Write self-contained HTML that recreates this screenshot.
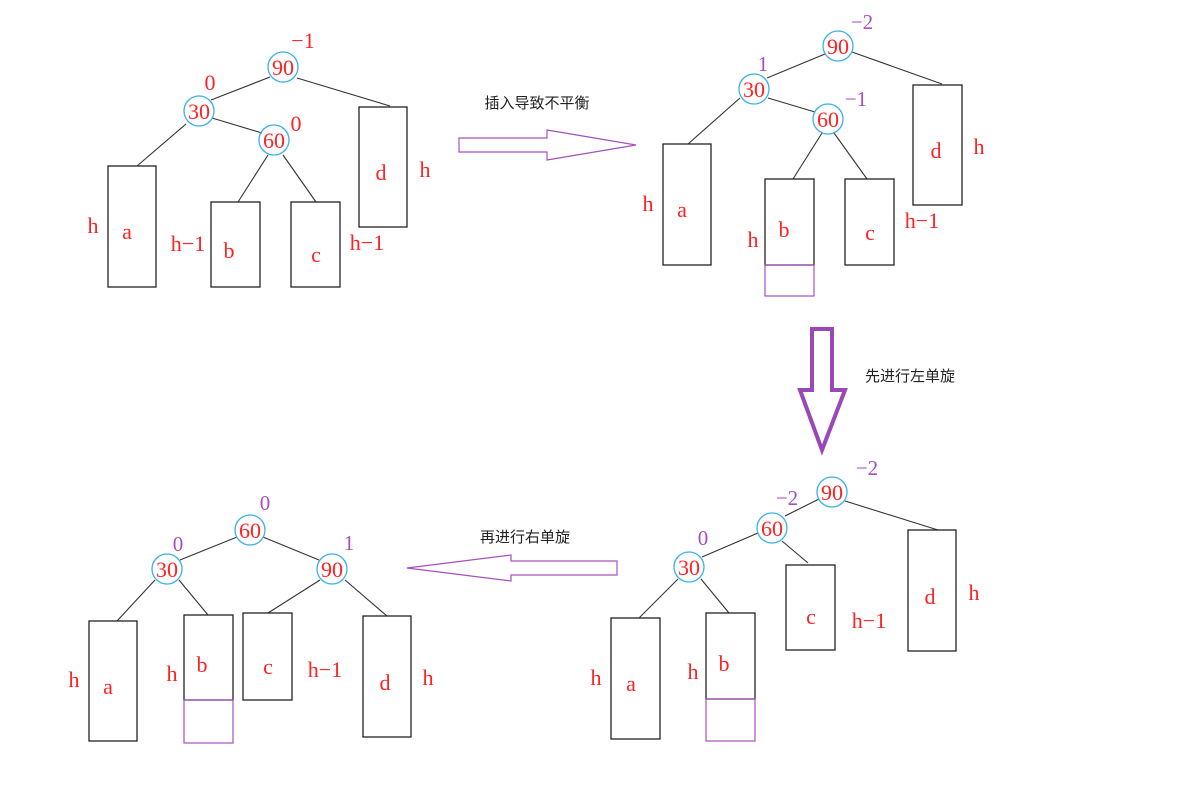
<!DOCTYPE html>
<html><head><meta charset="utf-8"><style>
html,body{margin:0;padding:0;background:#fff;}
svg{display:block;}
.r{fill:#f22;font-family:"Liberation Serif",serif;font-size:22px;text-anchor:middle;}
.p{fill:#a64fc0;font-family:"Liberation Serif",serif;font-size:21px;text-anchor:middle;}
.cn{fill:#222;font-family:"Liberation Sans","Noto Sans CJK SC",sans-serif;font-size:15px;text-anchor:middle;}
.box{fill:none;stroke:#222;stroke-width:1.3;}
.pbox{fill:none;stroke:#a64fc0;stroke-width:1.2;}
.ln{stroke:#333;stroke-width:1.1;}
.c{fill:none;stroke:#3ab0ea;stroke-width:1.3;}
</style></head><body>
<svg width="1186" height="787" viewBox="0 0 1186 787">
<!-- Top-left tree -->
<g>
<line class="ln" x1="270" y1="77" x2="211" y2="100"/><line class="ln" x1="297" y1="78" x2="390" y2="106"/>
<line class="ln" x1="186" y1="124" x2="137" y2="166"/><line class="ln" x1="212" y1="118" x2="262" y2="133"/>
<line class="ln" x1="268" y1="155" x2="238" y2="202"/><line class="ln" x1="283" y1="155" x2="316" y2="202"/>
<circle class="c" cx="283" cy="67" r="15"/><text class="r" x="283" y="75">90</text>
<circle class="c" cx="199" cy="111" r="15"/><text class="r" x="199" y="119">30</text>
<circle class="c" cx="274" cy="140" r="15"/><text class="r" x="274" y="148">60</text>
<text class="r" x="303" y="48">−1</text><text class="r" x="210" y="90">0</text><text class="r" x="296" y="131">0</text>
<rect class="box" x="108" y="166" width="48" height="121"/>
<rect class="box" x="211" y="202" width="49" height="85"/>
<rect class="box" x="291" y="202" width="49" height="85"/>
<rect class="box" x="359" y="107" width="48" height="120"/>
<text class="r" x="93" y="233">h</text><text class="r" x="127" y="239">a</text><text class="r" x="188" y="251">h−1</text>
<text class="r" x="229" y="258">b</text><text class="r" x="316" y="262">c</text><text class="r" x="367" y="250">h−1</text>
<text class="r" x="381" y="180">d</text><text class="r" x="425" y="177">h</text>
</g>
<!-- Arrow right -->
<polygon points="459,138 547,138 547,130 636,145 547,160 547,152 459,152" fill="none" stroke="#a64fc0" stroke-width="1.2"/>
<text class="cn" x="537" y="108">插入导致不平衡</text>
<!-- Top-right tree -->
<g>
<line class="ln" x1="825" y1="54" x2="767" y2="78"/><line class="ln" x1="852" y1="52" x2="942" y2="84"/>
<line class="ln" x1="740" y1="98" x2="688" y2="144"/><line class="ln" x1="768" y1="98" x2="815" y2="112"/>
<line class="ln" x1="822" y1="133" x2="793" y2="179"/><line class="ln" x1="834" y1="133" x2="867" y2="179"/>
<circle class="c" cx="838" cy="46" r="15"/><text class="r" x="838" y="54">90</text>
<circle class="c" cx="754" cy="89" r="15"/><text class="r" x="754" y="97">30</text>
<circle class="c" cx="828" cy="119" r="15"/><text class="r" x="828" y="127">60</text>
<text class="p" x="862" y="29">−2</text><text class="p" x="763" y="71">1</text><text class="p" x="856" y="106">−1</text>
<rect class="box" x="663" y="144" width="48" height="121"/>
<rect class="box" x="765" y="179" width="49" height="86"/><rect class="pbox" x="765" y="265" width="49" height="31"/>
<rect class="box" x="845" y="179" width="49" height="86"/>
<rect class="box" x="913" y="85" width="49" height="120"/>
<text class="r" x="648" y="211">h</text><text class="r" x="682" y="217">a</text><text class="r" x="753" y="247">h</text>
<text class="r" x="784" y="237">b</text><text class="r" x="870" y="240">c</text><text class="r" x="922" y="228">h−1</text>
<text class="r" x="936" y="158">d</text><text class="r" x="979" y="154">h</text>
</g>
<!-- Down arrow -->
<polygon points="812,329 832,329 832,390 845,390 822,450 800,390 812,390" fill="none" stroke="#9a48b8" stroke-width="4"/>
<text class="cn" x="910" y="381">先进行左单旋</text>
<!-- Bottom-right tree -->
<g>
<line class="ln" x1="819" y1="499" x2="785" y2="516"/><line class="ln" x1="845" y1="501" x2="938" y2="530"/>
<line class="ln" x1="758" y1="533" x2="702" y2="557"/><line class="ln" x1="782" y1="541" x2="808" y2="563"/>
<line class="ln" x1="678" y1="579" x2="639" y2="618"/><line class="ln" x1="701" y1="579" x2="729" y2="613"/>
<circle class="c" cx="832" cy="492" r="15"/><text class="r" x="832" y="500">90</text>
<circle class="c" cx="772" cy="528" r="15"/><text class="r" x="772" y="536">60</text>
<circle class="c" cx="689" cy="567" r="15"/><text class="r" x="689" y="575">30</text>
<text class="p" x="867" y="475">−2</text><text class="p" x="787" y="505">−2</text><text class="p" x="703" y="545">0</text>
<rect class="box" x="611" y="618" width="49" height="121"/>
<rect class="box" x="706" y="613" width="49" height="86"/><rect class="pbox" x="706" y="699" width="49" height="42"/>
<rect class="box" x="786" y="565" width="49" height="85"/>
<rect class="box" x="908" y="530" width="48" height="121"/>
<text class="r" x="596" y="685">h</text><text class="r" x="631" y="691">a</text><text class="r" x="693" y="679">h</text>
<text class="r" x="724" y="671">b</text><text class="r" x="811" y="624">c</text><text class="r" x="869" y="628">h−1</text>
<text class="r" x="930" y="604">d</text><text class="r" x="974" y="600">h</text>
</g>
<!-- Left arrow -->
<polygon points="617,561 511,561 511,555 407,568 511,581 511,575 617,575" fill="none" stroke="#a64fc0" stroke-width="1.2"/>
<text class="cn" x="525" y="542">再进行右单旋</text>
<!-- Bottom-left tree -->
<g>
<line class="ln" x1="237" y1="537" x2="180" y2="560"/><line class="ln" x1="263" y1="537" x2="319" y2="560"/>
<line class="ln" x1="155" y1="580" x2="117" y2="621"/><line class="ln" x1="179" y1="580" x2="208" y2="615"/>
<line class="ln" x1="320" y1="580" x2="268" y2="613"/><line class="ln" x1="345" y1="580" x2="387" y2="616"/>
<circle class="c" cx="250" cy="530" r="15"/><text class="r" x="250" y="538">60</text>
<circle class="c" cx="167" cy="569" r="15"/><text class="r" x="167" y="577">30</text>
<circle class="c" cx="332" cy="569" r="15"/><text class="r" x="332" y="577">90</text>
<text class="p" x="265" y="510">0</text><text class="p" x="178" y="551">0</text><text class="p" x="349" y="550">1</text>
<rect class="box" x="89" y="621" width="48" height="120"/>
<rect class="box" x="184" y="615" width="49" height="85"/><rect class="pbox" x="184" y="700" width="49" height="43"/>
<rect class="box" x="243" y="613" width="49" height="87"/>
<rect class="box" x="363" y="616" width="48" height="121"/>
<text class="r" x="74" y="687">h</text><text class="r" x="108" y="694">a</text><text class="r" x="172" y="681">h</text>
<text class="r" x="202" y="672">b</text><text class="r" x="268" y="674">c</text><text class="r" x="325" y="677">h−1</text>
<text class="r" x="385" y="690">d</text><text class="r" x="428" y="685">h</text>
</g>
</svg>
</body></html>
